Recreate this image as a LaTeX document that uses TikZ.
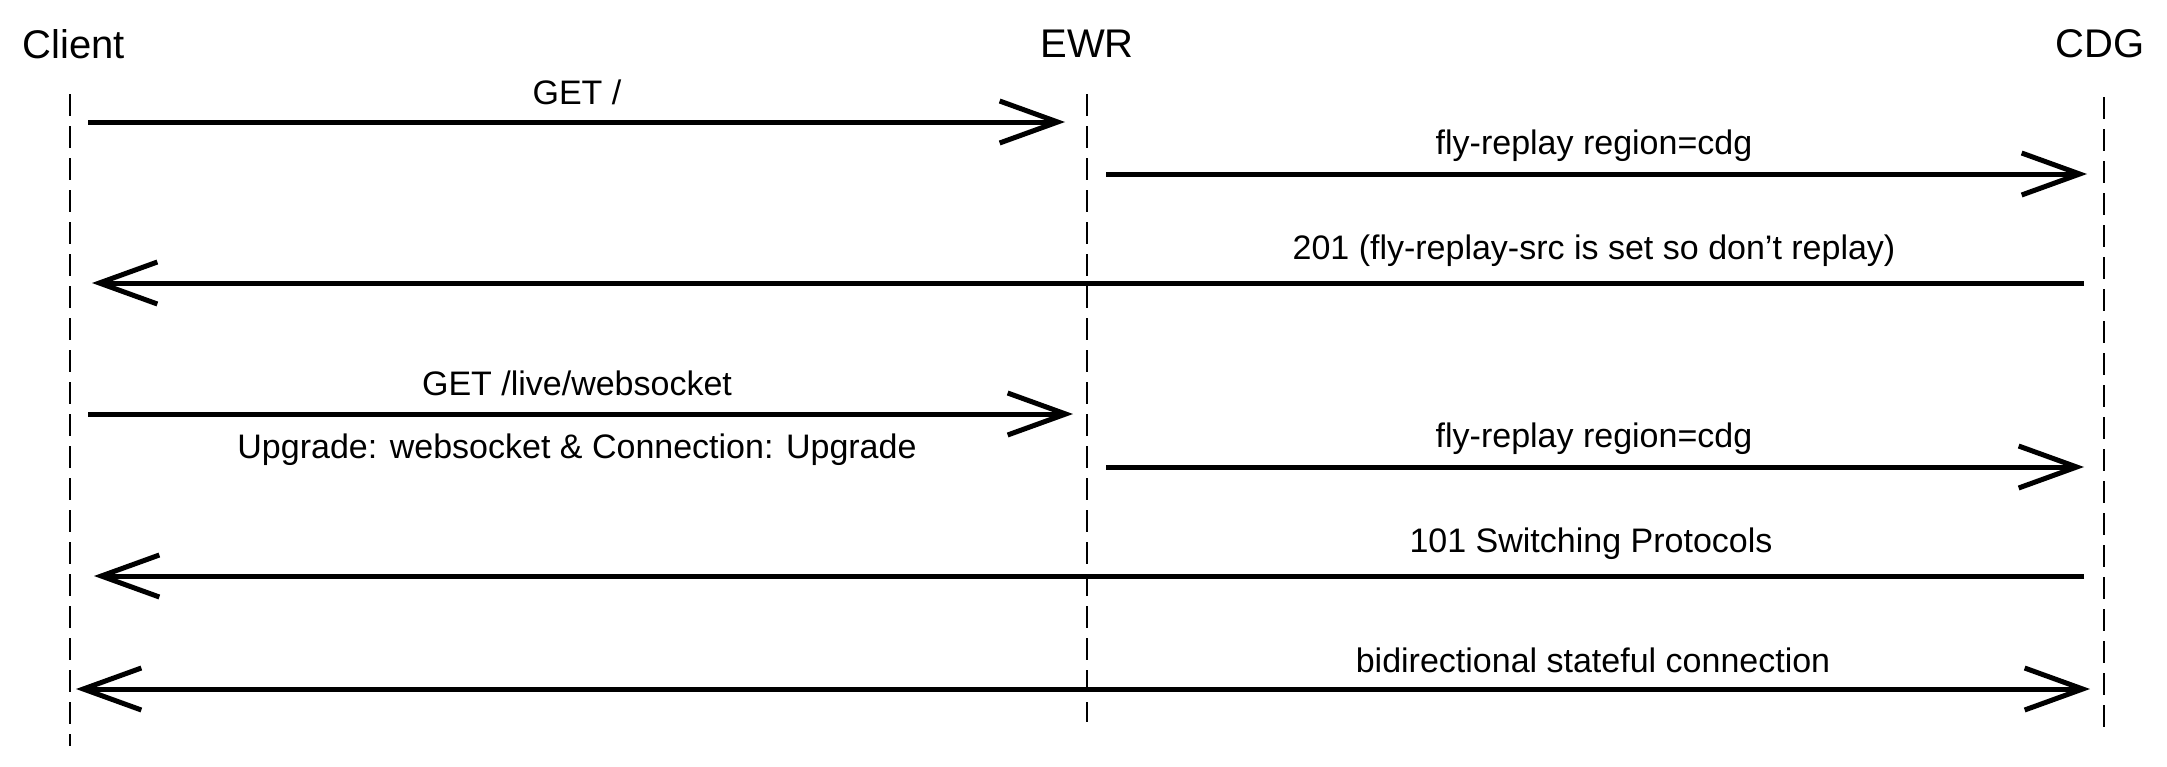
\documentclass[tikz,border=0pt]{standalone}
\usepackage{fontspec}
\setmainfont{Liberation Sans}
\usetikzlibrary{arrows.meta}

\begin{document}
\begin{tikzpicture}[x=0.5pt,y=-0.5pt,>={Straight Barb[length=29pt,width=21pt]},
  msg/.style={line width=2.5pt},
  life/.style={line width=0.8pt,dash pattern=on 11pt off 5pt},
  head/.style={font=\fontsize{20}{22}\selectfont},
  lbl/.style={font=\fontsize{17}{19}\selectfont}]
  \useasboundingbox (0,0) rectangle (2167,766);
  % participants
  \node[head] (client) at (74,44)   {Client};
  \node[head] (ewr)    at (1087,44) {EWR};
  \node[head] (cdg)    at (2100,44) {CDG};
  % lifelines
  \coordinate (ct) at (70,94);   \coordinate (cb) at (70,746);
  \coordinate (et) at (1087,94); \coordinate (eb) at (1087,722);
  \coordinate (dt) at (2104,97); \coordinate (db) at (2104,727);
  \draw[life] (ct) -- (cb);
  \draw[life] (et) -- (eb);
  \draw[life] (dt) -- (db);
  % end points of the messages
  \coordinate (a1) at (88,122);   \coordinate (b1) at (1065,122);
  \coordinate (a2) at (1106,174); \coordinate (b2) at (2087,174);
  \coordinate (a3) at (2084,283); \coordinate (b3) at (92,283);
  \coordinate (a4) at (88,414);   \coordinate (b4) at (1073,414);
  \coordinate (a5) at (1106,467); \coordinate (b5) at (2084,467);
  \coordinate (a6) at (2084,576); \coordinate (b6) at (94,576);
  \coordinate (a7) at (76,689);   \coordinate (b7) at (2090,689);
  % labels
  \node[lbl] (l1)  at (577,92)   {GET /};
  \node[lbl] (l2)  at (1594,146) {fly-replay region=cdg};
  \node[lbl] (l3)  at (1594,251) {201 (fly-replay-src is set so don't replay)};
  \node[lbl] (l4)  at (577,383)  {GET /live/websocket};
  \node[lbl] (l4b) at (577,450)  {Upgrade: websocket \& Connection: Upgrade};
  \node[lbl] (l5)  at (1594,439) {fly-replay region=cdg};
  \node[lbl] (l6)  at (1591,544) {101 Switching Protocols};
  \node[lbl] (l7)  at (1593,660) {bidirectional stateful connection};
  % messages
  \draw[msg,->] (a1) -- (b1);
  \draw[msg,->] (a2) -- (b2);
  \draw[msg,->] (a3) -- (b3);
  \draw[msg,->] (a4) -- (b4);
  \draw[msg,->] (a5) -- (b5);
  \draw[msg,->] (a6) -- (b6);
  \draw[msg,<->] (a7) -- (b7);
\end{tikzpicture}
\end{document}
